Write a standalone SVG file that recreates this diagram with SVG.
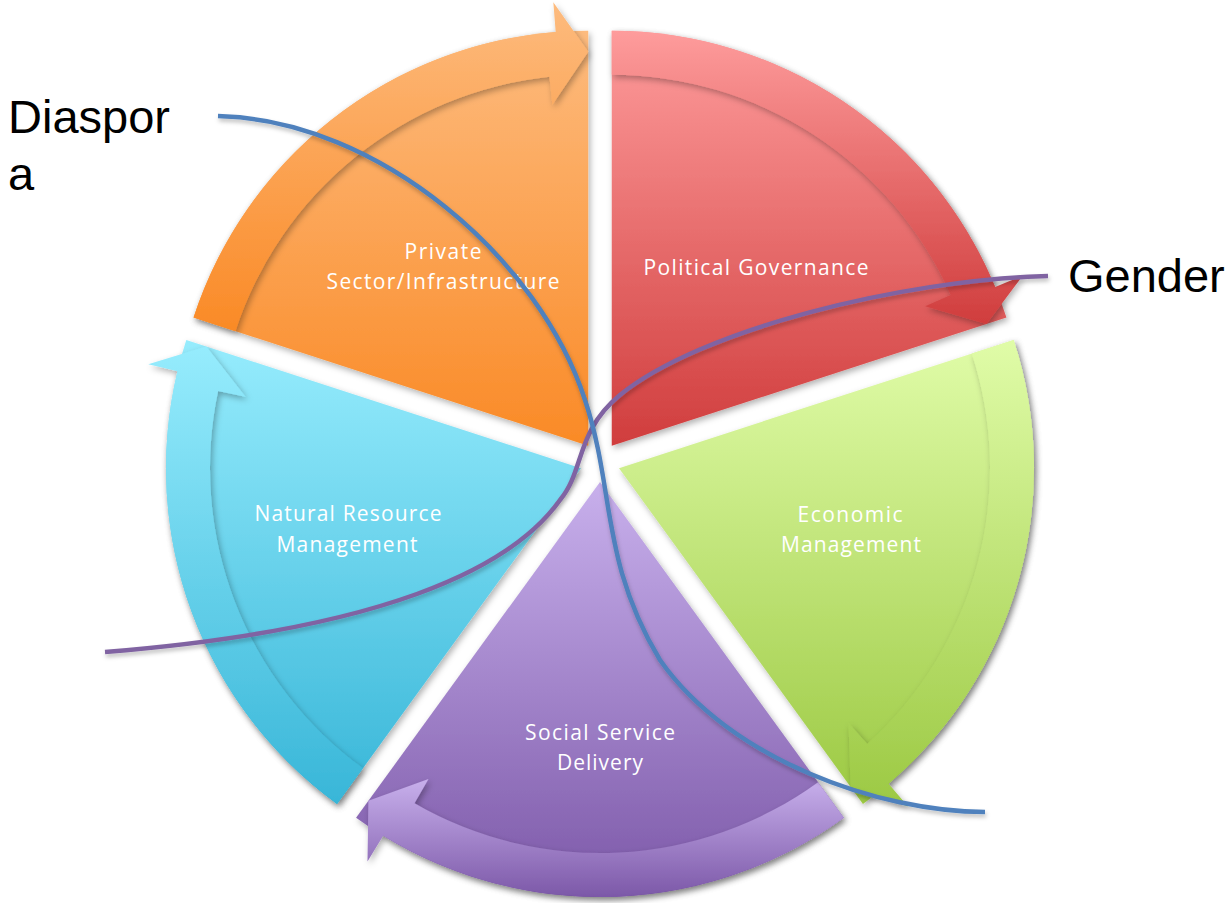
<svg xmlns="http://www.w3.org/2000/svg" width="1230" height="903" viewBox="0 0 1230 903">
<defs>
<filter id="sh" x="-10%" y="-10%" width="130%" height="130%">
<feDropShadow dx="2" dy="3" stdDeviation="3" flood-color="#000" flood-opacity="0.3"/>
</filter>
<filter id="lsh" x="-10%" y="-10%" width="130%" height="130%">
<feDropShadow dx="1" dy="3" stdDeviation="2" flood-color="#000" flood-opacity="0.25"/>
</filter>
<linearGradient id="gRed" x1="0" y1="0" x2="0" y2="1"><stop offset="0" stop-color="#fe9c9c"/><stop offset="1" stop-color="#d03d3d"/></linearGradient>
<linearGradient id="gOr" x1="0" y1="0" x2="0" y2="1"><stop offset="0" stop-color="#fdbb7e"/><stop offset="1" stop-color="#fa8a26"/></linearGradient>
<linearGradient id="gGr" x1="0" y1="0" x2="0" y2="1"><stop offset="0" stop-color="#e0fca8"/><stop offset="1" stop-color="#9cc943"/></linearGradient>
<linearGradient id="gBl" x1="0" y1="0" x2="0" y2="1"><stop offset="0" stop-color="#96ecfd"/><stop offset="1" stop-color="#38b6d8"/></linearGradient>
<linearGradient id="gPu" x1="0" y1="0" x2="0" y2="1"><stop offset="0" stop-color="#c8b0ec"/><stop offset="1" stop-color="#7c58a8"/></linearGradient>
</defs>
<style>
.seg{filter:url(#sh);}
.lbl{font-family:"Open Sans","Liberation Sans",sans-serif;font-size:21px;fill:#ffffff;text-anchor:middle;}
.big{font-family:"Liberation Sans",Arial,sans-serif;font-size:47px;fill:#000000;}
.curve{fill:none;stroke-width:4.5;filter:url(#lsh);}
</style>

<g id="node-political-governance">
<path class="seg" fill="url(#gRed)" d="M611.76,445.82 L611.76,30.82 A415,415 0 0 1 1006.45,317.58 Z"/>
<path class="seg" fill="url(#gRed)" d="M611.76,30.82 A415,415 0 0 1 995.17,287.01 L1022.89,275.53 L986.48,324.07 L925.11,306.31 L950.69,294.92 A371,371 0 0 0 611.76,74.82 Z"/>
<text class="lbl" x="756" y="275" textLength="225">Political Governance</text>
</g>

<g id="node-economic-management">
<path class="seg" fill="url(#gGr)" d="M619.02,468.18 L1013.71,339.94 A415,415 0 0 1 862.95,803.92 Z"/>
<path class="seg" fill="url(#gGr)" d="M1013.71,339.94 A415,415 0 0 1 888.54,783.75 L908.03,806.56 L850.61,786.93 L848.53,723.08 L867.27,743.88 A371,371 0 0 0 971.86,353.53 Z"/>
<text class="lbl" x="850" y="522" textLength="105">Economic</text>
<text class="lbl" x="851" y="552" textLength="140">Management</text>
</g>

<g id="node-social-service-delivery">
<path class="seg" fill="url(#gPu)" d="M600,482 L843.93,817.74 A415,415 0 0 1 356.07,817.74 Z"/>
<path class="seg" fill="url(#gPu)" d="M843.93,817.74 A415,415 0 0 1 383.16,835.85 L367.49,861.42 L368.41,800.75 L428.5,779.05 L414.5,803.3 A371,371 0 0 0 818.07,782.15 Z"/>
<text class="lbl" x="600" y="740" textLength="150">Social Service</text>
<text class="lbl" x="600" y="770" textLength="86">Delivery</text>
</g>

<g id="node-natural-resource-management">
<path class="seg" fill="url(#gBl)" d="M580.98,468.18 L337.05,803.92 A415,415 0 0 1 186.29,339.94 Z"/>
<path class="seg" fill="url(#gBl)" d="M337.05,803.92 A415,415 0 0 1 177.45,371.3 L148.28,364.29 L206.26,346.43 L245.47,396.87 L218.09,391.05 A371,371 0 0 0 362.91,768.33 Z"/>
<text class="lbl" x="348" y="521" textLength="187">Natural Resource</text>
<text class="lbl" x="347" y="552" textLength="141">Management</text>
</g>

<g id="node-private-sector">
<path class="seg" fill="url(#gOr)" d="M588.24,445.82 L193.55,317.58 A415,415 0 0 1 588.24,30.82 Z"/>
<path class="seg" fill="url(#gOr)" d="M193.55,317.58 A415,415 0 0 1 555.68,32.1 L553.33,2.19 L588.24,51.82 L552.39,104.7 L549.46,76.85 A371,371 0 0 0 235.4,331.17 Z"/>
<text class="lbl" x="443" y="259" textLength="77">Private</text>
<text class="lbl" x="443" y="289" textLength="233">Sector/Infrastructure</text>
</g>

<g id="connectors">
<path id="gender-line" class="curve" stroke="#8064a2" d="M1048,276 C900,280 700,330 620,395 C575,432 585,470 560,500 C510,570 380,630 105,652"/>
<path id="diaspora-line" class="curve" stroke="#4f81bd" d="M218,116 C380,120 540,260 585,400 C615,490 600,560 660,660 C730,760 880,812 985,812"/>
</g>

<g id="node-diaspora">
<text class="big" x="8" y="133">Diaspor</text>
<text class="big" x="8" y="190">a</text>
</g>
<g id="node-gender">
<text class="big" x="1068" y="292">Gender</text>
</g>
</svg>
